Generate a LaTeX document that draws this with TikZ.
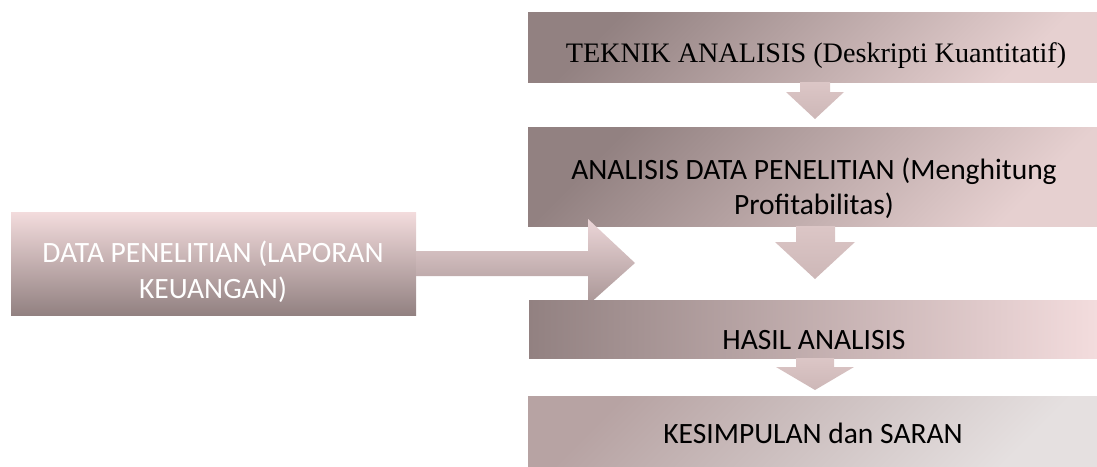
\documentclass[tikz,border=0pt]{standalone}
\usepackage{fontspec}
\setmainfont{Carlito}
\newfontfamily\camfont{Liberation Serif}
\definecolor{mdark}{HTML}{928181}
\definecolor{mlight}{HTML}{E6D0D0}
\definecolor{mpink}{HTML}{F3DCDD}
\definecolor{mgreytop}{HTML}{B7A3A3}
\definecolor{mgreybot}{HTML}{E5E0E0}
\definecolor{arrtop}{HTML}{ECD6D8}
\definecolor{arrbot}{HTML}{A89595}
\definecolor{darrow}{HTML}{DAC3C3}
\tikzset{
  box/.style={inner sep=0pt, draw=none},
  diagbox/.style={box, top color=mdark, bottom color=mlight, shading angle=45},
  boxtext/.style={anchor=base, inner sep=0pt, font=\fontsize{29.5}{35}\selectfont},
  downarrow/.style={top color=darrow!95!white, bottom color=darrow!94!black, draw=none},
}
\begin{document}
\begin{tikzpicture}[x=1pt,y=-1pt]
\useasboundingbox (0,0) rectangle (1097,466);
% boxes
\node[diagbox, minimum width=569pt, minimum height=70pt] (b1) at (812.5,47) {};
\node[diagbox, minimum width=569pt, minimum height=99pt] (b2) at (812.5,176.5) {};
\node[box, top color=mpink, bottom color=mdark, minimum width=405pt, minimum height=103pt] (lb) at (213.5,263.5) {};
% right arrow from left box
\coordinate (ra) at (lb.east);
\path[top color=arrtop, bottom color=arrbot, draw=none]
  (416,251) -- (588,251) -- (588,219) -- (635,263) -- (588,305) -- (588,276) -- (416,276) -- cycle;
\node[box, left color=mdark, right color=mpink, minimum width=568pt, minimum height=58pt] (b3) at (813,329) {};
\node[box, top color=mgreytop, bottom color=mgreybot, shading angle=45, minimum width=569pt, minimum height=70pt] (b4) at (812.5,431) {};
% down arrows
\path[downarrow] (800,82) -- (830,82) -- (830,92) -- (844,92) -- (815,119) -- (786,92) -- (800,92) -- cycle;
\path[downarrow] (796,226) -- (835,226) -- (835,242) -- (855,242) -- (815,279) -- (775,242) -- (796,242) -- cycle;
\path[downarrow] (796,358) -- (834,358) -- (834,367) -- (854,367) -- (815,390) -- (776,367) -- (796,367) -- cycle;
% texts
\node[boxtext, font=\camfont\fontsize{28.2}{35}\selectfont] (t1) at (816,62) {TEKNIK ANALISIS (Deskripti Kuantitatif)};
\node[boxtext] (t2a) at (814,179) {ANALISIS DATA PENELITIAN (Menghitung};
\node[boxtext] (t2b) at (814,214) {Profitabilitas)};
\node[boxtext, text=white] (tla) at (213,262) {DATA PENELITIAN (LAPORAN};
\node[boxtext, text=white] (tlb) at (213,298) {KEUANGAN)};
\node[boxtext] (t3) at (814,349) {HASIL ANALISIS};
\node[boxtext] (t4) at (813,443) {KESIMPULAN dan SARAN};
\end{tikzpicture}
\end{document}
